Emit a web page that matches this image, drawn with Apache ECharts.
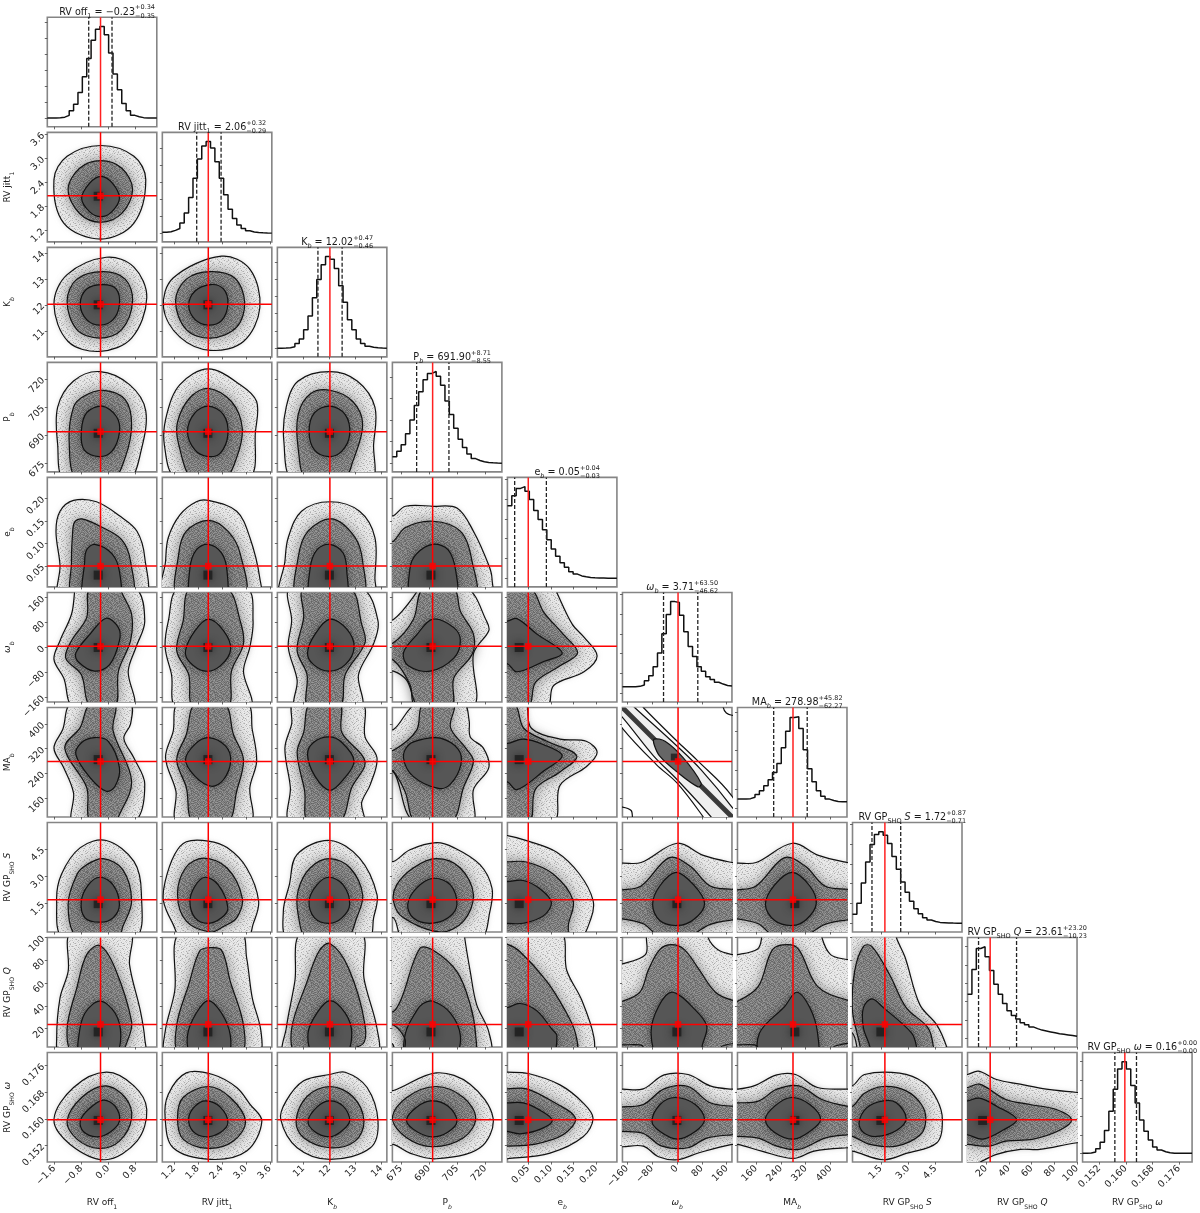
<!DOCTYPE html>
<html>
<head>
<meta charset="utf-8">
<title>corner plot</title>
<script src="https://cdn.jsdelivr.net/npm/echarts@6/dist/echarts.min.js"></script>
<style>html,body{margin:0;padding:0;background:#fff}#chart{width:1200px;height:1213px}</style>
</head>
<body>
<div id="chart"></div>
<script>
// axis setup, one entry per parameter
var axisMin = [-1.807, 0.91, 10, 670.4, 0.004, -175, 100, -0.06, 3.7, 0.147];
var axisMax = [1.437, 3.65, 14.21, 728.9, 0.2457, 177, 453, 5.96, 100, 0.1799];
var tickVals = [
  [-1.6, -0.8, 0, 0.8], [1.2, 1.8, 2.4, 3.0, 3.6], [11, 12, 13, 14], [675, 690, 705, 720],
  [0.05, 0.10, 0.15, 0.20], [-160, -80, 0, 80, 160], [160, 240, 320, 400], [1.5, 3.0, 4.5],
  [20, 40, 60, 80, 100], [0.152, 0.160, 0.168, 0.176]
];
var tickDecimals = [1, 1, 0, 0, 2, 0, 0, 1, 0, 3];
var histTickStep = [0.175, 0.185, 0.188, 0.235, 0.216, 0.216, 0.21, 0.216, 0.2, 0.2];

var truths = [-0.23, 2.06, 12.02, 691.9, 0.05, 3.71, 278.98, 1.72, 23.61, 0.1597];
var lows = [-0.58, 1.77, 11.56, 683.35, 0.02, -42.91, 216.71, 1.01, 13.38, 0.1567];
var highs = [0.11, 2.38, 12.49, 700.61, 0.09, 67.21, 324.8, 2.59, 46.81, 0.1632];
var modes = [-0.3, 2.05, 12.0, 691, 0.03, 0, 285, 1.5, 17, 0.1595];

var labels = ['{a|RV off}{s|1}', '{a|RV jitt}{s|1}', '{a|K}{b|b}', '{a|P}{b|b}', '{a|e}{b|b}', '{i|ω}{b|b}', '{a|MA}{b|b}',
  '{a|RV GP}{s|SHO}{a| }{i|S}', '{a|RV GP}{s|SHO}{a| }{i|Q}', '{a|RV GP}{s|SHO}{a| }{i|ω}'];
var medians = ['−0.23', '2.06', '12.02', '691.90', '0.05', '3.71', '278.98', '1.72', '23.61', '0.16'];
var ups = ['+0.34', '+0.32', '+0.47', '+8.71', '+0.04', '+63.50', '+45.82', '+0.87', '+23.20', '+0.00'];
var downs = ['−0.35', '−0.29', '−0.46', '−8.55', '−0.03', '−46.62', '−62.27', '−0.71', '−10.23', '−0.00'];

// histograms, height relative to the peak, 25 bins over the axis range
var histOff = [0, .001, .004, .01, .03, .08, .15, .28, .45, .65, .85, .97, 1, .91, .71, .48, .31, .16, .08, .03, .015, .005, .002, 0, 0];
var histJitt = [.01, .015, .03, .05, .11, .22, .39, .6, .81, .95, 1, .93, .78, .6, .42, .26, .16, .09, .05, .025, .012, .006, .003, .001, 0];
var histK = [0, .002, .005, .015, .05, .1, .2, .35, .55, .75, .91, 1, .97, .87, .68, .5, .31, .2, .1, .05, .02, .01, .005, .002, 0];
var histP = [.07, .13, .2, .32, .47, .63, .78, .91, .98, 1, .95, .85, .68, .53, .38, .26, .17, .1, .05, .03, .015, .008, .004, .001, 0];
var histE = [.79, .9, .98, 1, .95, .86, .74, .64, .53, .42, .32, .24, .17, .12, .07, .045, .025, .015, .007, .004, .002, .001, 0, 0, 0];
var histW = [.07, .07, .072, .075, .09, .135, .19, .29, .44, .65, .86, 1, .99, .85, .67, .51, .4, .29, .24, .18, .15, .12, .1, .085, .08];
var histMA = [.1, .102, .105, .12, .15, .19, .245, .31, .39, .49, .66, .84, .99, 1, .87, .64, .43, .29, .19, .13, .1, .085, .075, .07, .07];
var histS = [.1, .22, .44, .67, .86, .97, 1, .96, .87, .73, .59, .45, .34, .24, .16, .105, .06, .036, .02, .01, .007, .004, .002, .001, 0];
var histQ = [.48, .75, .98, 1, .89, .74, .59, .48, .38, .3, .25, .21, .17, .147, .125, .106, .09, .08, .07, .06, .05, .044, .037, .03, .022];
var histG = [.001, .003, .015, .05, .12, .25, .46, .7, .92, 1, .92, .74, .55, .365, .24, .146, .07, .036, .018, .007, 0, 0, 0, 0, 0];
var hists = [histOff, histJitt, histK, histP, histE, histW, histMA, histS, histQ, histG];

// contours, [outer, middle, inner], x,y pairs in axis units; name is c<row><col>
var c10 = [[-.22,3.32,.76,3.05,1.11,2.47,.76,1.38,-.22,.98,-1.32,1.38,-1.61,2.47,-1.22,3.05],
  [-.22,2.94,.4,2.75,.72,2.22,.4,1.62,-.22,1.4,-.85,1.62,-1.19,2.22,-.85,2.75],
  [-.22,2.55,.12,2.38,.33,2,.1,1.66,-.22,1.54,-.55,1.66,-.79,2,-.55,2.38]];
var c20 = [[-.06,13.83,.76,13.45,1.14,12.27,.69,10.72,-.25,10.21,-1.19,10.59,-1.61,12.02,-1.22,13.16],
  [-.15,13.28,.5,12.99,.72,12.15,.4,11.05,-.25,10.72,-.93,11.05,-1.22,12.15,-.93,12.99],
  [-.15,12.78,.23,12.61,.33,12.02,.14,11.43,-.25,11.22,-.64,11.43,-.83,12.02,-.64,12.61]];
var c21 = [[2.39,13.87,3.1,13.37,3.35,11.89,2.94,10.59,2.12,10.25,1.35,10.76,.94,11.89,1.18,13.03],
  [2.12,13.28,2.72,13.03,2.97,12.1,2.77,11.14,2.12,10.72,1.51,11.05,1.24,12.15,1.51,12.99],
  [2.12,12.78,2.44,12.61,2.55,12.02,2.39,11.39,2.06,11.22,1.73,11.43,1.57,11.98,1.73,12.53]];
var c30 = [[-.25,724,.63,717,1.11,703,.95,680,.63,666,-.25,660,-1.32,666,-1.5,685,-1.5,705,-1.03,719],
  [-.15,714,.5,709,.69,695.6,.5,678,.11,666,-.93,666,-1.16,686.8,-1.03,705,-.74,710.7],
  [-.185,705.5,.24,700,.33,691.5,.11,681.5,-.28,678.6,-.71,682,-.8,692,-.64,702]];
var c31 = [[2.06,725.4,2.86,717,3.27,708,3.24,692,3.07,667,1.27,667,.96,685,1.02,701,1.35,717],
  [2.06,715,2.64,708,2.91,693.8,2.77,678,2.44,666,1.68,666,1.32,685,1.29,697,1.6,710],
  [2.06,705.5,2.44,701,2.55,690.3,2.36,680.4,2.06,678.6,1.73,682,1.54,692,1.73,702]];
var c32 = [[12.02,724,13.07,719,13.75,705,13.7,685,13.58,666,10.63,666,10.25,686.8,10.34,705,10.8,719],
  [12.02,714,12.9,708,13.28,695.6,12.9,676,12.53,666,11.14,666,10.8,683,10.8,701,11.26,712],
  [12.02,705.5,12.61,701,12.78,690.3,12.48,681.5,11.98,678.6,11.43,682,11.22,692,11.43,702]];
var c40 = [[-1.03,.195,-.35,.192,.33,.161,.85,.127,1.08,.069,1.05,-.02,-1.42,-.02,-1.43,.052,-1.55,.127,-1.43,.171],
  [-.79,.154,-.25,.138,.4,.108,.66,.06,.66,-.02,-1.03,-.02,-1.09,.06,-1.06,.12,-1,.147],
  [-.4,.098,.11,.077,.33,.038,.3,-.02,-.7,-.02,-.7,.06,-.64,.086]];
var c41 = [[2.06,.195,2.77,.171,3.1,.113,3.35,.023,3.32,-.02,.94,-.02,.99,.06,1.06,.113,1.35,.163,1.76,.192],
  [2.06,.151,2.55,.127,2.86,.077,2.94,-.02,1.32,-.02,1.32,.077,1.51,.127],
  [2.06,.098,2.39,.079,2.53,.038,2.47,-.02,1.65,-.02,1.6,.045,1.76,.086]];
var c42 = [[12.02,.192,13.16,.171,13.75,.113,13.75,.023,13.7,-.02,10.17,-.02,10.29,.06,10.42,.113,10.93,.171],
  [12.1,.154,12.99,.113,13.28,.06,13.24,-.02,10.8,-.02,10.8,.069,11.18,.127],
  [12.02,.098,12.53,.079,12.67,.038,12.61,-.02,11.31,-.02,11.26,.045,11.52,.086]];
var c43 = [[668.6,.161,671,.161,677.4,.182,692,.182,704.9,.178,713.7,.127,721.9,.052,723.6,.023,722.5,-.02,668.6,-.02],
  [668.6,.105,671,.105,677.4,.135,692,.149,706.7,.127,713,.06,713.7,-.02,668.6,-.02],
  [692,.098,700.2,.086,704.3,.038,703.7,-.02,680.9,-.02,679.8,.045,683.3,.077]];
var c50 = [[-1,190,.79,190,1.08,85,.82,1,.59,-76,.72,-190,-1.03,-190,-1.32,-98,-1.61,-38,-1.43,22,-1.09,107,-1,177],
  [.4,190,.4,177,.69,107,.66,22,.3,-76,.2,-190,-.54,-190,-.8,-87,-1.26,-34,-1.09,22,-.64,96,-.54,190],
  [-.06,94,.3,64,.33,22,.04,-55,-.41,-76,-.9,-45,-.96,-17,-.54,43]];
var c51 = [[1.32,190,3.02,190,3.18,85,3.1,1,2.94,-76,3.1,-190,1.27,-190,1.14,-87,.98,1,1.06,85],
  [2.53,190,2.86,85,2.94,12,2.64,-76,2.55,-190,1.68,-190,1.57,-87,1.27,-10,1.43,85,1.6,190],
  [2.06,91,2.44,54,2.62,-6,2.36,-59,1.98,-76,1.6,-48,1.49,-10,1.73,54]];
var c52 = [[10.5,190,13.24,190,13.87,85,13.7,12,13.12,-87,13.2,-190,10.72,-190,10.76,-105,10.42,1,10.55,85],
  [12.8,190,13.24,75,13.37,15,12.61,-87,12.4,-190,11.18,-190,11.14,-87,10.76,-10,11.01,96,11.01,190],
  [12.02,91,12.67,59,12.95,1,12.61,-55,11.98,-76,11.39,-55,11.16,-17,11.45,43]];
var c53 = [[683.3,190,710.2,190,720.7,85,721.9,54,713.7,-20,713.7,-190,685,-190,678,-105,671,-76,664.5,-76,664.5,90,671,90,683.3,177],
  [703.2,190,706.7,117,713.7,43,713,-22,703.2,-98,702,-190,682.7,-190,679.8,-119,671,-41,664.5,-41,664.5,15,671,15,681.5,89,686.8,190],
  [692,91,703.2,64,706.7,22,703.2,-34,690.6,-76,678.9,-59,676.3,-17,683.3,40]];
var c54 = [[-.02,190,.11,190,.113,177,.147,75,.173,33,.202,-27,.173,-78,.106,-122,.091,-190,-.02,-190],
  [-.02,190,.055,190,.084,114,.127,43,.159,-17,.12,-59,.066,-112,.05,-190,-.02,-190],
  [-.02,85,.004,85,.025,93,.069,43,.125,-17,.084,-45,.025,-78,.004,-52,-.02,-52]];
var c60 = [[-1.09,465,.63,465,.66,400,.46,354,.76,290,1.08,206,.76,85,-1.03,85,-1.03,178,-1.32,259,-1.61,322,-1.35,382],
  [-.54,465,.2,465,.14,379,.69,216,.3,100,.2,85,-.54,85,-.64,195,-1.29,322,-.83,389],
  [-.41,356,0,344,.33,259,.2,199,-.06,183,-.54,227,-.96,301,-.79,340]];
var c61 = [[1.32,465,3.02,465,3.16,382,3.27,280,3.1,195,3.1,85,1.29,85,1.25,183,.99,291,1.18,375],
  [2.47,465,2.69,366,2.94,285,2.77,183,2.55,85,1.68,85,1.51,195,1.27,285,1.51,366,1.73,465],
  [2.06,356,2.49,329,2.62,280,2.44,220,2.14,199,1.73,231,1.49,285,1.73,335]];
var c62 = [[10.63,465,13.24,465,13.37,358,13.83,291,13.58,206,13.24,146,13.28,85,10.5,85,10.5,195,10.29,322,10.55,400],
  [12.4,465,12.48,372,13.37,280,12.86,195,12.4,85,11.18,85,11.05,183,10.76,308,11.01,372,11.26,465],
  [11.98,358,12.48,340,12.95,280,12.53,220,12.02,186,11.45,231,11.16,301,11.39,340]];
var c63 = [[708.4,465,711.4,411,712,358,719,322,721.9,259,713.7,188,713,85,682,85,671,248,664.5,248,664.5,382,671,382,683.3,465],
  [703.2,465,701.4,389,709.6,322,713.7,280,708.4,195,702,85,682.7,85,677.1,183,670.4,248,664.5,248,664.5,315,671,315,683.3,379,686.8,465],
  [686.8,351,696.1,354,705.5,319,707,269,701.4,206,695,192,681.5,231,676.3,291,679.2,333]];
var c64 = [[-.02,465,.047,465,.048,453,.057,386,.12,351,.178,344,.202,308,.178,262,.12,202,.106,85,-.02,85],
  [-.02,465,.02,465,.04,386,.09,345,.157,297,.12,245,.066,190,.052,85,-.02,85],
  [-.02,337,.004,337,.039,351,.084,333,.125,297,.084,248,.025,188,.004,213,-.02,213]];
var c65 = [[-108,453,1,344,64,284,177,167,230,47,110,60,85,100,1,209,-66,269,-175,386,-228,470,-130,480],
  [-136,453,1,328,78,252,177,132,215,70,130,65,110,100,1,220,-76,298,-175,421,-215,460,-175,490],
  [-73,351,-38,344,20,291,78,209,68,197,-3,248,-55,296,-73,333]];
var band65 = [-193,460,-182,471,195,93,184,82];
var arcs65 = [[149,490,149,453,159,435,177,428,215,428,215,490], [-210,132,-175,132,-147,121,-143,100,-143,60,-210,60]];
var c70 = [[-.06,4.97,.76,3.82,.98,2.05,.79,-.4,-1.32,-.4,-1.53,1.63,-1.39,3.1,-.83,4.58],
  [-.15,3.97,.43,3.37,.69,1.63,.43,.24,.3,-.3,-.93,-.3,-1.19,1.45,-.93,3.1,-.64,3.64],
  [-.25,2.95,.14,2.53,.33,1.45,.14,.72,-.25,.48,-.69,.72,-.8,1.63,-.59,2.53]];
var c71 = [[1.51,4.9,2.06,4.94,2.53,4.58,3.02,3.46,3.32,1.63,3.18,.36,3.02,-.4,1.4,-.4,1.18,.36,.94,1.63,.98,2.71,1.22,4.21],
  [1.94,4,2.53,3.46,2.91,1.81,2.77,.72,2.44,.24,2.12,-.06,1.51,.54,1.29,1.99,1.49,3.46],
  [1.98,2.95,2.31,2.53,2.55,1.26,2.39,.72,2.06,.42,1.73,.72,1.6,1.63,1.73,2.47]];
var c72 = [[12.02,4.97,13.16,4,13.83,1.99,13.7,.72,13.49,-.4,10.42,-.4,10.23,1.08,10.46,2.53,10.76,4.21],
  [12.02,3.97,12.8,3.46,13.28,1.99,13.05,.72,12.65,-.4,11.14,-.4,10.8,.9,10.8,2.23,11.26,3.46],
  [11.98,2.95,12.53,2.53,12.78,1.45,12.48,.72,11.98,.42,11.43,.72,11.22,1.63,11.52,2.53]];
var c73 = [[664.5,3.82,671,3.82,679.8,4.46,693.8,4.85,703.2,4.58,717.2,3.64,723.6,2.35,722.5,1.08,717.2,-.4,676.3,-.4,671,.72,664.5,.72],
  [693.8,3.97,706.7,3.46,713.7,1.99,708.4,.54,696.1,-.06,676.3,.72,671,1.63,672.7,2.53,681.5,3.46],
  [692,2.89,701.4,2.53,704.9,1.45,700.2,.72,690.3,.42,681.5,.72,678.6,1.45,683.3,2.35]];
var c74 = [[-.02,5.24,.004,5.24,.05,4.94,.113,4.33,.163,3.13,.193,1.68,.188,.66,.161,-.4,-.02,-.4],
  [-.02,3.8,.004,3.8,.046,3.79,.105,3.13,.149,1.68,.139,.42,.132,-.4,-.02,-.4],
  [-.02,2.71,.004,2.71,.039,2.77,.077,2.29,.101,1.57,.084,.84,.039,.42,.004,.42,-.02,.42]];
var c75 = [[-210,3.7,-175,3.73,-115,3.76,1,4.82,85,4.15,177,3.76,215,3.7,215,-.5,-210,-.5],
  [-210,2.3,-175,2.26,-115,2.47,-24,4.03,43,3.55,107,2.47,177,2.29,215,2.3,215,.6,177,.6,107,.36,36,-.3,-55,-.3,-108,.39,-175,.66,-210,.66],
  [-3,3.22,54,2.53,89,1.5,54,.63,1,.3,-55,.57,-78,1.45,-55,2.47]];
var c76 = [[70,3.7,100,3.73,160,3.76,277,4.82,361,4.15,453,3.76,490,3.7,490,-.5,70,-.5],
  [70,2.3,100,2.26,160,2.47,252,4.03,319,3.55,382,2.47,453,2.29,490,2.3,490,.6,453,.6,382,.36,312,-.3,220,-.3,167,.39,100,.66,70,.66],
  [277,3.22,333,2.47,354,1.5,322,.63,277,.3,220,.57,190,1.45,220,2.53]];
var c80 = [[.63,105,.63,76,.95,35.5,1.08,11,1.05,-2,-1.43,-2,-1.53,11,-1.43,47,-1.19,70,-1.09,105],
  [-.25,93,.2,73,.69,26,.59,11,.33,-2,-1.03,-2,-1.22,20,-.93,56,-.64,85],
  [-.25,44,.2,33.6,.37,14,.2,-2,-.83,-2,-.87,14,-.69,33.6]];
var c81 = [[2.86,105,3.02,82,3.16,47,3.38,17,3.3,-2,1.02,-2,.98,17,1.22,53,1.35,105],
  [2.06,91,2.39,89,2.61,61.5,2.94,23,2.86,-2,1.35,-2,1.27,23,1.57,58.6,1.84,88],
  [2.06,44.6,2.39,33.6,2.61,14,2.53,-2,1.65,-2,1.54,14,1.76,33.6]];
var c82 = [[13.2,105,13.33,64,13.83,20,13.79,-2,10.29,-2,10.34,20,10.67,61,10.93,105],
  [12.02,94.7,12.74,73,13.37,23,13.2,5,10.75,-2,10.55,20,11.14,61,11.6,88],
  [12.02,44.6,12.61,33.6,12.86,16,12.61,-2,11.39,-2,11.18,16,11.52,33.6]];
var c83 = [[664.5,105,709,105,709,100,712,70,715.4,41,721.9,17,721.9,-2,672.7,-2,670.4,6.6,664.5,6.6],
  [685,90.4,692,89,704.9,70,712,41,714.9,14,713.7,-2,678,-2,677.1,11,671,23,664.5,23,664.5,35,671,35,675.4,47],
  [692,44,701.4,33.6,706.7,14,703.7,-2,678,-2,677.4,16,683.3,35.5,686.8,42]];
var c84 = [[-.02,105,.12,105,.135,71,.168,45,.195,12,.188,-2,-.02,-2],
  [-.02,94,.004,94,.032,87.5,.091,61.5,.132,35.5,.154,16,.153,-2,-.02,-2],
  [-.02,38,.004,38.4,.032,42,.069,35.5,.103,19,.113,14,.103,-2,-.02,-2]];
var c85 = [[-210,76.9,-175,76.9,-101,85,-98,100,-98,110,100,110,100,100,131,89.4,177,85,212,85,212,6.6,177,6.6,159,5.6,142,3.7,142,-6,-108,-6,-108,3.7,-119,5.6,-175,5.6,-210,5.6],
  [-17,93.7,24,89.4,71,72,124,51.9,177,45,215,45,215,-6,-210,-6,-210,44,-175,44,-119,51.9,-91,72,-55,89.4],
  [-15,51.9,59,36.4,96,22,82,5.6,71,-6,-54,-6,-83,16,-59,39.3]];
var c86 = [[65,85,100,85,165,90,178,100,178,110,372,110,372,100,400,85,453,80.7,488,80,488,7,453,7,420,5,410,3.7,410,-6,165,-6,165,3.7,155,5.6,100,5.6,65,5.6],
  [262,93.7,298,89.4,358,57,453,45,490,45,490,-6,65,-6,65,44,100,44,167,57,213,89.4],
  [291,51.9,333,38.4,358,16,351,-6,178,-6,171,16,252,39.3]];
var c87 = [[-.5,105,2.35,105,2.35,100,2.83,82.7,3.64,41,4.58,23,5.12,3.7,5.2,-6,.18,-6,.18,3.7,-.06,16,-.5,16],
  [.54,92.3,1,92.3,1.99,67,2.89,38.4,4.09,20.6,4.39,3.7,4.4,-6,.36,-6,.36,3.7,-.06,35.5,.06,70.6],
  [1,46,1.63,38.4,3.19,16,3.46,3.7,3.46,-6,.9,-6,.9,3.7,.54,20.6,.54,38.4]];
var c90 = [[-.06,.174,.76,.1699,1.14,.1628,.85,.1533,-.09,.1477,-1.13,.1523,-1.61,.1598,-1.03,.1694],
  [-.09,.1699,.5,.1664,.69,.1602,.33,.1533,-.28,.1511,-.93,.1539,-1.22,.1593,-.79,.1664],
  [-.15,.1656,.2,.1638,.33,.1593,.04,.1559,-.35,.1546,-.74,.1562,-.83,.1593,-.59,.1628]];
var c91 = [[1.51,.1738,2.17,.1733,2.77,.1694,3.1,.1644,3.4,.1593,3.02,.1503,2.12,.1478,1.18,.1513,.98,.1602,1.06,.1674],
  [2.06,.1697,2.61,.1664,2.99,.1593,2.69,.1533,2.06,.1511,1.43,.1539,1.29,.1602,1.43,.1664],
  [2,.1654,2.36,.1635,2.55,.1588,2.36,.1559,2,.1546,1.68,.1562,1.57,.1602,1.73,.1638]];
var c92 = [[12.02,.1733,12.61,.174,13.45,.1694,13.87,.1593,13.58,.1513,12.02,.1478,10.76,.1513,10.13,.1598,10.34,.1654,11.01,.1714],
  [12.02,.1697,12.9,.1667,13.33,.1593,12.99,.1533,12.02,.1513,11.01,.1543,10.72,.1593,11.14,.1667],
  [11.98,.1654,12.53,.1638,12.78,.1593,12.4,.1559,11.98,.1546,11.43,.1562,11.18,.1593,11.52,.1635]];
var c93 = [[664.5,.1685,671,.1685,693.8,.1738,711.9,.1704,724.2,.1602,717.2,.1513,693.8,.148,679.8,.1497,671,.1523,664.5,.1523],
  [693.8,.1697,708.4,.1664,714.9,.1602,708.4,.1543,692,.1516,678,.1543,670.4,.1602,678,.1664],
  [690.9,.1654,700.2,.1638,704.9,.1593,699.7,.1559,690.9,.1546,681.5,.1569,678,.1598,683.3,.1635]];
var c94 = [[-.02,.174,.004,.174,.05,.1736,.12,.1702,.171,.1648,.193,.1602,.171,.1546,.098,.1497,.004,.148,-.02,.148],
  [-.02,.169,.004,.169,.046,.169,.105,.1651,.154,.1602,.127,.1552,.062,.1523,.004,.1518,-.02,.1518],
  [-.02,.1648,.004,.1648,.039,.1648,.077,.1625,.103,.1595,.077,.1569,.032,.1555,.004,.1562,-.02,.1562]];
var c95 = [[-210,.1689,-175,.1689,-108,.169,-41,.1732,36,.1733,107,.1699,177,.1689,215,.1689,215,.1523,177,.1523,71,.1498,1,.1477,-59,.1486,-108,.1518,-175,.1516,-210,.1516],
  [-210,.1636,-175,.1636,-108,.1643,-41,.169,36,.1697,107,.1648,177,.1638,215,.1638,215,.1552,177,.1552,96,.1542,36,.1513,-48,.1518,-108,.1556,-175,.1562,-210,.1562],
  [-6,.1664,59,.1643,89,.1598,59,.1562,1,.1539,-54,.1562,-80,.1592,-54,.1643]];
var c96 = [[65,.1689,100,.1689,153,.1699,227,.1732,287,.1733,358,.1694,453,.1689,490,.1689,490,.1512,453,.1513,347,.1503,280,.1481,178,.1503,100,.1523,65,.1523],
  [65,.1648,100,.1648,167,.1653,227,.1689,298,.1699,372,.1658,453,.1638,490,.1638,490,.1552,453,.1552,382,.1542,298,.1508,227,.1518,167,.1542,100,.1547,65,.1547],
  [273,.1664,333,.1643,368,.1598,333,.1562,280,.1539,220,.1559,190,.1598,220,.1638]];
var c97 = [[-.5,.1699,-.06,.1699,.6,.1733,2.53,.1737,3.85,.1709,4.58,.1658,4.88,.1598,4.58,.1528,2.89,.1496,1.63,.1477,-.06,.1503,-.5,.1503],
  [-.5,.1638,-.06,.1638,.6,.1677,1.63,.1697,2.89,.1684,3.73,.1643,3.97,.1598,3.67,.1552,2.35,.1518,.9,.1523,-.06,.1547,-.5,.1547],
  [.3,.1588,.72,.1633,1.63,.1654,2.35,.1648,2.89,.1602,2.35,.1565,1.26,.1547,.54,.1559]];
var c98 = [[0,.1733,3.7,.1733,13.3,.1743,29.2,.1718,50,.1704,73,.1689,100,.1679,110,.1675,110,.1525,100,.1528,67.3,.1508,50,.1508,29.2,.1493,11.4,.1465,0,.1455],
  [0,.1694,3.7,.1694,14.3,.1704,37.4,.1658,58.6,.1643,81.7,.1628,95.2,.1598,85.6,.1567,61.5,.1539,37.4,.1533,23,.1518,3.7,.1523,0,.1523],
  [0,.1654,3.7,.1654,14.3,.1662,29.2,.1638,47,.1598,35.5,.1567,17.2,.1539,3.7,.1552,0,.1552]];
var contours = {
  c10:c10, c20:c20, c21:c21, c30:c30, c31:c31, c32:c32, c40:c40, c41:c41, c42:c42, c43:c43,
  c50:c50, c51:c51, c52:c52, c53:c53, c54:c54, c60:c60, c61:c61, c62:c62, c63:c63, c64:c64, c65:c65,
  c70:c70, c71:c71, c72:c72, c73:c73, c74:c74, c75:c75, c76:c76,
  c80:c80, c81:c81, c82:c82, c83:c83, c84:c84, c85:c85, c86:c86, c87:c87,
  c90:c90, c91:c91, c92:c92, c93:c93, c94:c94, c95:c95, c96:c96, c97:c97, c98:c98
};

// layout of the triangle
var n = 10, left0 = 47.3, top0 = 17.3, pitch = 115.03, size = 109.5;

// grain for the scatter look, typed by hand so it stays the same every run
var grain = [
  '720491836251947038162594', '358106274915063827419650', '941762058340712596380271',
  '063895127469281370954126', '817240965132748059216387', '246518370994163825071942',
  '590372816405297164838015', '138964052871350429617283', '672045193768912036485791',
  '405891726350476182930564', '983127460519238745106928', '214670938256091387462350',
  '769352081447625910873146', '052918764130389276541087', '836247105992750143628915',
  '471580392667014832957206', '925036718453291670384142', '180794253816467025198673',
  '647301985270538941620358', '392658140726813569047218', '058412679334970218586401',
  '713960524188246305971637', '264879301567159482033960', '509123846702385716429851'
];
function makeTile(fn) {
  var cv = document.createElement('canvas');
  cv.width = 24; cv.height = 24;
  var ctx = cv.getContext('2d');
  for (var y = 0; y < 24; y++) {
    for (var x = 0; x < 24; x++) {
      ctx.fillStyle = fn(+grain[y].charAt(x));
      ctx.fillRect(x, y, 1, 1);
    }
  }
  return cv;
}
var lightTile = {image: makeTile(function (d) { var g = d >= 8 ? 175 + (9 - d) * 25 : 238 - d * 2; return 'rgb(' + g + ',' + g + ',' + g + ')'; }), repeat: 'repeat'};
var darkTile = {image: makeTile(function (d) { var g = 100 + d * 6; return 'rgb(' + g + ',' + g + ',' + g + ')'; }), repeat: 'repeat'};

function pairs(flat, api) {
  var out = [];
  for (var i = 0; i < flat.length; i += 2) out.push(api.coord([flat[i], flat[i + 1]]));
  return out;
}

function contourSeries(key, gridIdx) {
  var rings = contours[key];
  return {
    type: 'custom', xAxisIndex: gridIdx, yAxisIndex: gridIdx, clip: true, silent: true, z: 1,
    data: [[0, 0]],
    renderItem: function (params, api) {
      var kids = [], i;
      if (key === 'c65') {
        // the omega / MA panel is a thin band and has no cloud around it
        kids.push({type: 'polygon', shape: {points: pairs(rings[0], api), smooth: 0.3}, style: {fill: '#fcfcfc'}});
        kids.push({type: 'polygon', shape: {points: pairs(rings[1], api), smooth: 0.3}, style: {fill: '#efefef'}});
        kids.push({type: 'polygon', shape: {points: pairs(band65, api)}, style: {fill: '#3a3a3a'}});
        kids.push({type: 'polygon', shape: {points: pairs(rings[2], api), smooth: 0.3}, style: {fill: '#666'}});
        arcs65.forEach(function (a) {
          kids.push({type: 'polygon', shape: {points: pairs(a, api), smooth: 0.3}, style: {fill: 'none', stroke: '#111', lineWidth: 1.2}});
        });
      } else {
        kids.push({type: 'polygon', shape: {points: pairs(rings[0], api), smooth: 0.35},
          style: {fill: lightTile, shadowBlur: 5, shadowColor: 'rgba(190,190,190,0.6)'}});
        kids.push({type: 'polygon', shape: {points: pairs(rings[1], api), smooth: 0.35},
          style: {fill: darkTile, shadowBlur: 14, shadowColor: 'rgba(80,80,80,0.7)'}});
        kids.push({type: 'polygon', shape: {points: pairs(rings[2], api), smooth: 0.35},
          style: {fill: '#565656', shadowBlur: 10, shadowColor: 'rgba(40,40,40,0.7)'}});
      }
      for (i = 0; i < rings.length; i++) {
        kids.push({type: 'polygon', shape: {points: pairs(rings[i], api), smooth: 0.35},
          style: {fill: 'none', stroke: '#111', lineWidth: 1.2}});
      }
      return {type: 'group', children: kids};
    }
  };
}

function vLine(x, y0, y1, gi, color, width, dash, z) {
  return {type: 'line', xAxisIndex: gi, yAxisIndex: gi, data: [[x, y0], [x, y1]], symbol: 'none', silent: true, z: z,
    lineStyle: {color: color, width: width, type: dash}};
}

function tickLabelFmt(v) {
  return function (val) { return val.toFixed(tickDecimals[v]).replace('-', '−'); };
}

function richStyles(fs) {
  var sm = Math.round(fs * 0.68 * 10) / 10, lh = fs + 6, w = 'normal', fam = 'DejaVu Sans', ink = '#1a1a1a';
  return {
    a: {fontFamily: fam, fontWeight: w, fontSize: fs, lineHeight: lh, color: ink},
    i: {fontFamily: fam, fontWeight: w, fontStyle: 'italic', fontSize: fs, lineHeight: lh, color: ink},
    s: {fontFamily: fam, fontWeight: w, fontSize: sm, lineHeight: sm + 5, verticalAlign: 'bottom', color: ink},
    b: {fontFamily: fam, fontWeight: w, fontStyle: 'italic', fontSize: sm, lineHeight: sm + 5, verticalAlign: 'bottom', color: ink},
    p: {fontFamily: fam, fontWeight: w, fontSize: sm, lineHeight: sm + 1, verticalAlign: 'top', color: ink},
    q: {fontFamily: fam, fontWeight: w, fontSize: sm, lineHeight: sm + 1, verticalAlign: 'bottom', color: ink}
  };
}
function hiddenRich(fs) {
  var r = richStyles(fs);
  r.a.color = r.i.color = r.s.color = r.b.color = r.p.color = 'transparent';
  return r;
}

var grids = [], xAxes = [], yAxes = [], series = [], titles = [];

function addAxes(row, col) {
  var gi = grids.length, isBottom = row === n - 1, isLeft = col === 0, isDiag = row === col;
  grids.push({left: left0 + col * pitch, top: top0 + row * pitch, width: size, height: size,
    show: true, borderColor: '#858585', borderWidth: 1.6, backgroundColor: 'transparent'});
  xAxes.push({
    type: 'value', gridIndex: gi, min: axisMin[col], max: axisMax[col], scale: true,
    name: isBottom ? labels[col] : '', nameLocation: 'middle', nameGap: 33,
    nameTextStyle: {rich: richStyles(9)},
    splitLine: {show: false}, axisLine: {show: false, onZero: false},
    axisTick: {show: true, length: 2.5, lineStyle: {color: '#444', width: 0.8}, customValues: tickVals[col]},
    axisLabel: {show: isBottom, rotate: 45, fontFamily: 'DejaVu Sans', fontSize: 9.5, color: '#222', margin: 5,
      customValues: tickVals[col], formatter: tickLabelFmt(col)}
  });
  var yTicks = tickVals[row], yMin = axisMin[row], yMax = axisMax[row];
  if (isDiag) {
    yMin = -0.095; yMax = 1.1; yTicks = [];
    for (var k = 0; k * histTickStep[row] < 1.09; k++) yTicks.push(k * histTickStep[row]);
  }
  yAxes.push({
    type: 'value', gridIndex: gi, min: yMin, max: yMax, scale: true,
    name: (isLeft && !isDiag) ? labels[row] : '', nameLocation: 'middle', nameGap: 32, nameRotate: 90,
    nameTextStyle: {rich: richStyles(9)},
    splitLine: {show: false}, axisLine: {show: false, onZero: false},
    axisTick: {show: true, length: 2.5, lineStyle: {color: '#444', width: 0.8}, customValues: yTicks},
    axisLabel: {show: isLeft && !isDiag, rotate: 45, fontFamily: 'DejaVu Sans', fontSize: 9.5, color: '#222', margin: 4,
      customValues: yTicks, formatter: tickLabelFmt(row)}
  });
  return gi;
}

for (var row = 0; row < n; row++) {
  for (var col = 0; col <= row; col++) {
    var gi = addAxes(row, col);
    if (row === col) {
      var bins = hists[col], w = (axisMax[col] - axisMin[col]) / bins.length, steps = [];
      bins.forEach(function (h, b) { steps.push([axisMin[col] + b * w, h]); });
      steps.push([axisMax[col], bins[bins.length - 1]]);
      series.push({type: 'line', xAxisIndex: gi, yAxisIndex: gi, data: steps, step: 'end', symbol: 'none', silent: true, z: 2,
        lineStyle: {color: '#111', width: 1.5}});
      series.push(vLine(lows[col], -0.095, 1.1, gi, '#222', 1.3, [4, 2], 3));
      series.push(vLine(highs[col], -0.095, 1.1, gi, '#222', 1.3, [4, 2], 3));
      series.push(vLine(truths[col], -0.095, 1.1, gi, '#ff2020', 1.5, 'solid', 4));
      var txt = labels[col] + '{a| = ' + medians[col] + '}';
      titles.push({text: txt + '{p|' + ups[col] + '}', left: left0 + col * pitch + size / 2, top: top0 + row * pitch - 18,
        textAlign: 'center', textStyle: {rich: richStyles(9.6)}});
      titles.push({text: txt + '{q|' + downs[col] + '}', left: left0 + col * pitch + size / 2, top: top0 + row * pitch - 18,
        textAlign: 'center', textStyle: {rich: hiddenRich(9.6)}});
    } else {
      series.push(contourSeries('c' + row + col, gi));
      if (!(row === 6 && col === 5)) {
        series.push({type: 'scatter', xAxisIndex: gi, yAxisIndex: gi, data: [[modes[col], modes[row]]], symbol: 'rect', symbolSize: 9,
          silent: true, z: 2, itemStyle: {color: '#1c1c1c', shadowBlur: 8, shadowColor: '#222'}});
      } else {
        series.push({type: 'scatter', xAxisIndex: gi, yAxisIndex: gi, data: [[truths[col] - 12, truths[row] + 14]], symbol: 'rect', symbolSize: 7,
          silent: true, z: 2, itemStyle: {color: '#1c1c1c'}});
      }
      series.push(vLine(truths[col], axisMin[row], axisMax[row], gi, '#ff0000', 1.5, 'solid', 4));
      series.push({type: 'line', xAxisIndex: gi, yAxisIndex: gi, data: [[axisMin[col], truths[row]], [axisMax[col], truths[row]]],
        symbol: 'none', silent: true, z: 4, lineStyle: {color: '#ff0000', width: 1.5}});
      series.push({type: 'scatter', xAxisIndex: gi, yAxisIndex: gi, data: [[truths[col], truths[row]]], symbol: 'rect', symbolSize: 6.5,
        silent: true, z: 5, itemStyle: {color: '#ff0000'}});
    }
  }
}

var chart = echarts.init(document.getElementById('chart'), null, {renderer: 'canvas'});
chart.setOption({
  animation: false,
  backgroundColor: '#fff',
  title: titles,
  grid: grids,
  xAxis: xAxes,
  yAxis: yAxes,
  series: series
});
</script>
</body>
</html>
